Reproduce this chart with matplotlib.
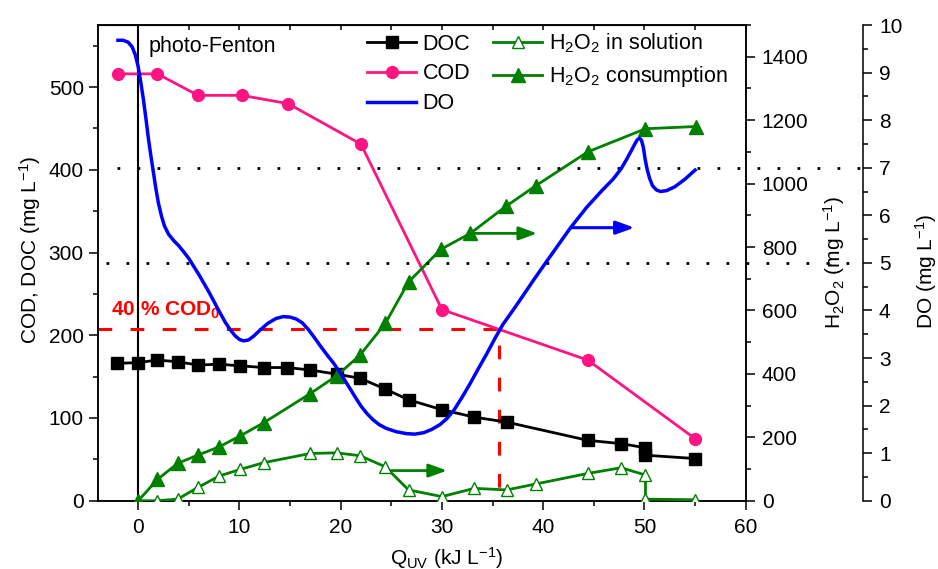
import numpy as np
import matplotlib as mpl
mpl.use('Agg')
import matplotlib.pyplot as plt
from matplotlib.lines import Line2D
from matplotlib.ticker import MultipleLocator

plt.rcParams['font.family'] = ['Liberation Sans', 'DejaVu Sans']
plt.rcParams['mathtext.fontset'] = 'custom'
plt.rcParams['mathtext.rm'] = 'Liberation Sans'
plt.rcParams['mathtext.it'] = 'Liberation Sans:italic'
plt.rcParams['mathtext.bf'] = 'Liberation Sans:bold'
plt.rcParams['mathtext.default'] = 'regular'

# DOC (mg/L) vs accumulated UV energy
doc_q = [-2.1, 0, 1.9, 3.9, 5.9, 8.0, 10.1, 12.4, 14.7, 17.0, 19.6, 21.9, 24.4,
         26.7, 30.0, 33.2, 36.4, 44.4, 47.7, 50.1, 50.1, 55.0]
doc = [166, 167, 170, 168, 164, 165, 163, 161, 161, 158, 153, 148, 135,
       122, 110, 101, 95, 73, 69, 64, 55, 51]

# COD (mg/L)
cod_q = [-2.0, 1.9, 5.9, 10.2, 14.8, 22.0, 30.0, 44.4, 55.0]
cod = [516, 516, 490, 490, 480, 431, 231, 170, 75]

# H2O2 in solution (mg/L)
sol_q = [0, 1.9, 3.9, 5.9, 8.0, 10.1, 12.4, 17.0, 19.6, 21.9, 24.4, 26.7,
         30.0, 33.2, 36.4, 39.3, 44.4, 47.7, 50.1, 50.1, 55.0]
h2o2_sol = [0, 0, 5, 42, 78, 99, 120, 149, 151, 142, 107, 34,
            13, 39, 34, 53, 86, 104, 81, 5, 3]

# H2O2 consumption (mg/L)
cons_q = [0, 1.9, 3.9, 5.9, 8.0, 10.1, 12.4, 17.0, 19.6, 21.9, 24.4, 26.7,
          29.9, 32.8, 36.3, 39.3, 44.4, 50.1, 55.1]
h2o2_cons = [0, 67, 118, 144, 170, 205, 246, 338, 394, 459, 559, 690,
             793, 843, 928, 994, 1100, 1173, 1180]

# dissolved oxygen (mg/L), continuous probe trace
do_q = [-2.0, -1.5, -1.0, -0.6, -0.3, 0.0, 0.25, 0.5, 0.75, 1.0, 1.25, 1.5,
        1.75, 2.0, 2.3, 2.6, 3.0, 3.5, 4.0, 4.5, 5.0, 5.5, 6.0, 7.0, 8.0, 8.6,
        9.1, 9.6, 10.0, 10.4, 10.9, 11.4, 12.0, 12.8, 13.6, 14.3, 15.0, 15.6,
        16.2, 16.8, 17.4, 18.0, 18.6, 19.3, 20.0, 20.7, 21.4, 22.0, 22.6, 23.2,
        23.8, 24.5, 25.5, 26.5, 27.3, 28.2, 29.0, 29.8, 30.5, 31.2, 32.0, 32.8,
        33.6, 34.4, 35.2, 36.0, 37.0, 38.0, 39.05, 40.5, 42.0, 42.7, 44.3, 45.8,
        46.9, 47.7, 48.3, 48.8, 49.1, 49.3, 49.5, 49.7, 49.9, 50.05, 50.25, 50.5,
        50.8, 51.2, 51.6, 52.2, 53.0, 54.0, 55.0]
do = [9.68, 9.68, 9.64, 9.54, 9.38, 9.12, 8.8, 8.45, 8.05, 7.62, 7.25, 6.9,
      6.55, 6.25, 5.98, 5.77, 5.6, 5.47, 5.36, 5.23, 5.09, 4.92, 4.75, 4.38,
      3.98, 3.75, 3.59, 3.46, 3.39, 3.36, 3.38, 3.46, 3.58, 3.73, 3.83, 3.87,
      3.86, 3.82, 3.74, 3.6, 3.43, 3.25, 3.08, 2.89, 2.67, 2.43, 2.19, 1.99,
      1.83, 1.70, 1.60, 1.52, 1.45, 1.41, 1.40, 1.43, 1.5, 1.6, 1.73, 1.91,
      2.18, 2.47, 2.78, 3.08, 3.40, 3.70, 4.0, 4.31, 4.64, 5.08, 5.53, 5.74,
      6.17, 6.52, 6.76, 6.98, 7.2, 7.4, 7.52, 7.59, 7.62, 7.58, 7.42, 7.2,
      6.98, 6.78, 6.62, 6.53, 6.5, 6.52, 6.6, 6.76, 6.95]

do_limits = [7, 5]
cod_40 = 207          # 40 % of initial COD
q_40 = 35.6           # Q_UV where COD reached 40 %

black = 'k'
pink = '#FF1482'
blue = '#0000FF'
green = '#008000'

fig = plt.figure(figsize=(9.38, 5.69), dpi=100)
ax = fig.add_axes([0.1042, 0.120, 0.6908, 0.836])
ax2 = ax.twinx()
ax3 = ax.twinx()

# left axis: COD, DOC
ax.plot(doc_q, doc, color=black, lw=2, marker='s', ms=8, zorder=4)
ax.plot(cod_q, cod, color=pink, lw=2, marker='o', ms=8.5, zorder=4)
ax.plot([-4, q_40, q_40], [cod_40, cod_40, 0], color='#FF0000', lw=2.2,
        ls=(0, (4.5, 6)), zorder=3)
ax.axvline(0, color='k', lw=1.5, zorder=2)
ax.text(1.0, 549, 'photo-Fenton', fontsize=15.5, va='center')
ax.text(-2.7, 230, r'40 % COD$_\mathbf{0}$', fontsize=15, fontweight='bold',
        color='#FF0000', va='center')

ax.set_xlim(-4, 60)
ax.set_ylim(0, 575)
ax.xaxis.set_major_locator(MultipleLocator(10))
ax.xaxis.set_minor_locator(MultipleLocator(5))
ax.yaxis.set_major_locator(MultipleLocator(100))
ax.yaxis.set_minor_locator(MultipleLocator(50))
ax.set_ylabel(r'COD, DOC (mg L$^{-1}$)', fontsize=15)
ax.yaxis.set_label_coords(-0.084, 0.527)
ax.set_xlabel(r'Q$_{UV}$ (kJ L$^{-1}$)', fontsize=15)
ax.xaxis.set_label_coords(0.539, -0.093)
ax.tick_params(which='both', direction='out', width=1.1, labelsize=15, right=False)
ax.tick_params(which='major', length=6.5)
ax.tick_params(which='minor', length=3.5)
ax.tick_params(axis='x', pad=6)

top = ax.secondary_xaxis('top')
top.set_xticks(np.arange(0, 61, 5))
top.tick_params(direction='in', length=3.5, width=1.1, labeltop=False)

# right axis: H2O2
ax2.plot(sol_q, h2o2_sol, color=green, lw=2, marker='^', ms=9,
         mfc='white', mec=green, mew=1, zorder=4)
ax2.plot(cons_q, h2o2_cons, color=green, lw=2, marker='^', ms=9.5, zorder=4)
ax2.set_ylim(0, 1500)
ax2.yaxis.set_major_locator(MultipleLocator(200))
ax2.yaxis.set_minor_locator(MultipleLocator(100))
ax2.set_ylabel(r'H$_2$O$_2$ (mg L$^{-1}$)', fontsize=15, labelpad=9)
ax2.tick_params(which='both', direction='out', width=1.1, labelsize=15, pad=5)
ax2.tick_params(which='major', length=6.5)
ax2.tick_params(which='minor', length=3.5)

arrow = '-|>,head_length=0.55,head_width=0.2'
ax2.annotate('', xy=(30.5, 95), xytext=(24.4, 95),
             arrowprops=dict(arrowstyle=arrow, color=green, lw=2,
                             mutation_scale=20, shrinkA=0, shrinkB=0))
ax2.annotate('', xy=(39.4, 843), xytext=(32.8, 843),
             arrowprops=dict(arrowstyle=arrow, color=green, lw=2,
                             mutation_scale=20, shrinkA=0, shrinkB=0))

# far right axis: DO
ax3.spines['right'].set_position(('axes', 1.181))
for s in ['left', 'top', 'bottom']:
    ax3.spines[s].set_visible(False)
ax3.plot(do_q, do, color=blue, lw=2.5, zorder=4, solid_joinstyle='round')
for lvl, x0 in zip(do_limits, [-2.1, -3.2]):
    ax3.plot([x0, 71.5], [lvl, lvl], color='k', lw=2, ls=(0, (1, 6.2)),
             clip_on=False)
ax3.annotate('', xy=(49.0, 5.74), xytext=(42.7, 5.74),
             arrowprops=dict(arrowstyle=arrow, color=blue, lw=2.2,
                             mutation_scale=20, shrinkA=0, shrinkB=0))
ax3.set_ylim(0, 10)
ax3.yaxis.set_major_locator(MultipleLocator(1))
ax3.yaxis.set_minor_locator(MultipleLocator(0.5))
ax3.set_ylabel(r'DO (mg L$^{-1}$)', fontsize=15)
ax3.yaxis.set_label_coords(1.258, 0.483)
ax3.tick_params(which='both', direction='out', width=1.1, labelsize=15, pad=5)
ax3.tick_params(which='major', length=6.5)
ax3.tick_params(which='minor', length=3.5)

for a in [ax, ax2, ax3]:
    for s in a.spines.values():
        s.set_linewidth(1.1)

handles = [
    Line2D([], [], color=black, lw=2, marker='s', ms=8),
    Line2D([], [], color=pink, lw=2, marker='o', ms=8.5),
    Line2D([], [], color=blue, lw=2.5),
    Line2D([], [], color=green, lw=2, marker='^', ms=9, mfc='white', mew=1),
    Line2D([], [], color=green, lw=2, marker='^', ms=9.5),
]
labels = ['DOC', 'COD', 'DO', r'H$_2$O$_2$ in solution', r'H$_2$O$_2$ consumption']
ax3.legend(handles, labels, ncol=2, loc='upper left', bbox_to_anchor=(0.391, 0.944),
           bbox_transform=fig.transFigure, frameon=False, fontsize=15.5,
           handlelength=2.3, handletextpad=0.3, columnspacing=1.05,
           labelspacing=0.4, borderpad=0, borderaxespad=0)

fig.savefig('out.png', dpi=100)
